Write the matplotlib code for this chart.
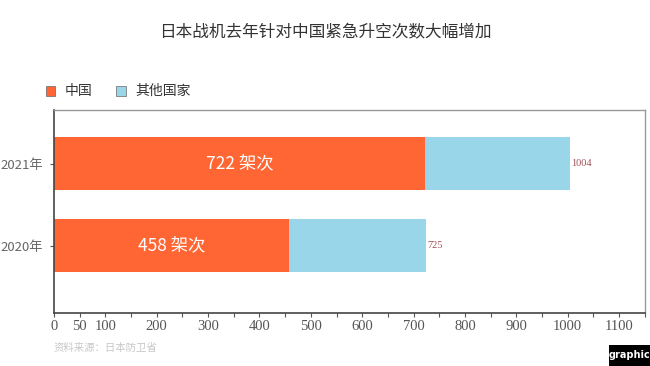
import matplotlib
matplotlib.use("Agg")
import matplotlib.pyplot as plt
from matplotlib.patches import Rectangle

plt.rcParams['font.family'] = ['Noto Sans CJK SC', 'DejaVu Sans']

categories = ["2020年", "2021年"]
china = [458, 722]
others = [267, 282]
totals = [725, 1004]
series_names = ["中国", "其他国家"]
inside_labels = ["458 架次", "722 架次"]
tick_values = [0, 50, 100, 200, 300, 400, 500, 600, 700, 800, 900, 1000, 1100]

c_china = "#FF6633"
c_other = "#99D6EA"

fig = plt.figure(figsize=(6.5, 3.66), dpi=100)
ax = fig.add_axes([0.083, 0.145, 0.909, 0.554])

ypos = list(range(len(categories)))
h = 0.65
ax.barh(ypos, china, height=h, color=c_china, edgecolor="none")
ax.barh(ypos, others, left=china, height=h, color=c_other, edgecolor="none")

for y, v, lab in zip(ypos, china, inside_labels):
    ax.text(v / 2, y, lab, color="white", fontsize=12.5, ha="center", va="center")
for y, t in zip(ypos, totals):
    ax.text(t + 2, y, str(t), color="#A0525A", fontsize=7.5, ha="left", va="center",
            family="Liberation Serif")

ax.set_xlim(0, 1150)
ax.set_ylim(-0.82, 1.65)
ax.set_yticks(ypos)
ax.set_yticklabels(categories, color="#666666", fontsize=9.5)
ax.set_xticks(range(0, 1151, 50))
ax.set_xticklabels([str(v) if v in tick_values else "" for v in range(0, 1151, 50)],
                   family="Liberation Serif", fontsize=10.5, color="#555555")
ax.tick_params(axis="x", length=3, color="#555555", pad=2)
ax.tick_params(axis="y", length=3, color="#555555", pad=5)

for s in ["left", "bottom"]:
    ax.spines[s].set_color("#444444")
    ax.spines[s].set_linewidth(1.2)
for s in ["top", "right"]:
    ax.spines[s].set_color("#999999")
    ax.spines[s].set_linewidth(1.0)

fig.text(0.5, 0.91, "日本战机去年针对中国紧急升空次数大幅增加", ha="center", va="center",
         fontsize=12, color="#333333")

# legend
for x0, col, name in [(0.070, c_china, series_names[0]), (0.179, c_other, series_names[1])]:
    fig.patches.append(Rectangle((x0, 0.737), 0.015, 0.027, transform=fig.transFigure,
                                 facecolor=col, edgecolor="#666666", linewidth=0.5))
    fig.text(x0 + 0.030, 0.751, name, ha="left", va="center", fontsize=10, color="#333333")

fig.text(0.083, 0.048, "资料来源：日本防卫省", ha="left", va="center", fontsize=7.5, color="#C8C8C8")

fig.patches.append(Rectangle((0.937, 0.0), 0.063, 0.058, transform=fig.transFigure,
                             facecolor="black", edgecolor="none"))
fig.text(0.968, 0.029, "graphic", ha="center", va="center", fontsize=7, color="white",
         fontweight="bold", family="DejaVu Sans")

fig.savefig("out.png", dpi=100, facecolor="white")
